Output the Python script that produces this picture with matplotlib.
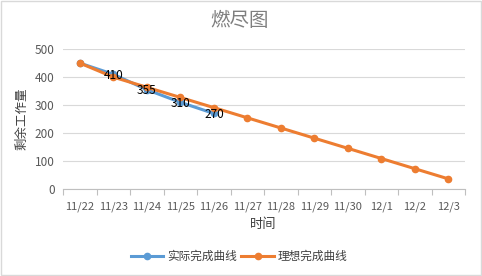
import matplotlib
matplotlib.use('Agg')
import matplotlib.pyplot as plt
from matplotlib.patches import Rectangle

plt.rcParams['font.family'] = ['Noto Sans CJK SC', 'DejaVu Sans']

# dados do grafico
dates = ['11/22', '11/23', '11/24', '11/25', '11/26', '11/27', '11/28',
         '11/29', '11/30', '12/1', '12/2', '12/3']
actual = [450, 410, 355, 310, 270]
ideal = [450, 400, 363.6, 327.3, 290.9, 254.5, 218.2, 181.8, 145.5, 109.1, 72.7, 36.4]
actual_labels = ['', '410', '355', '310', '270']

fig = plt.figure(figsize=(4.82, 2.76), dpi=100)
fig.patches.append(Rectangle((0.002, 0.004), 0.996, 0.992, transform=fig.transFigure,
                             fill=False, edgecolor='#D9D9D9', linewidth=1))
ax = fig.add_axes([0.131, 0.315, 0.834, 0.507])

x = list(range(len(dates)))
ax.plot(x[:len(actual)], actual, color='#5B9BD5', linewidth=2.2, marker='o',
        markersize=4.5, label='实际完成曲线', zorder=3)
ax.plot(x, ideal, color='#ED7D31', linewidth=2.2, marker='o',
        markersize=4.5, label='理想完成曲线', zorder=4)

for i, v in enumerate(actual):
    if actual_labels[i]:
        ax.text(i, v - 4, actual_labels[i], ha='center', va='center',
                fontsize=8.5, color='black', zorder=5)

ax.set_xlim(-0.5, len(dates) - 0.5)
ax.set_ylim(0, 500)
ax.set_yticks([0, 100, 200, 300, 400, 500])
ax.set_xticks(x)
ax.set_xticklabels(dates)
ax.set_xticks([i - 0.5 for i in range(len(dates) + 1)], minor=True)
ax.tick_params(axis='x', which='major', length=0, pad=9, labelsize=8, colors='#595959')
ax.tick_params(axis='x', which='minor', length=4, color='#BFBFBF', width=0.8)
ax.tick_params(axis='y', length=0, labelsize=8.5, colors='#595959', pad=6)

ax.grid(axis='y', color='#D9D9D9', linewidth=0.8)
ax.set_axisbelow(True)
for s in ['top', 'right', 'left']:
    ax.spines[s].set_visible(False)
ax.spines['bottom'].set_color('#BFBFBF')
ax.spines['bottom'].set_linewidth(0.8)

fig.text(0.497, 0.925, '燃尽图', ha='center', va='center', fontsize=14, color='#7F7F7F')
fig.text(0.045, 0.57, '剩余工作量', ha='center', va='center', rotation=90,
         fontsize=9, color='#404040')
fig.text(0.546, 0.185, '时间', ha='center', va='center', fontsize=9.5, color='#404040')

leg = fig.legend(loc='center', bbox_to_anchor=(0.496, 0.072), ncol=2, frameon=False,
                 fontsize=8.4, handlelength=2.8, columnspacing=0.4, handletextpad=0.3)
for t in leg.get_texts():
    t.set_color('#404040')

fig.savefig('out.png', dpi=100)
